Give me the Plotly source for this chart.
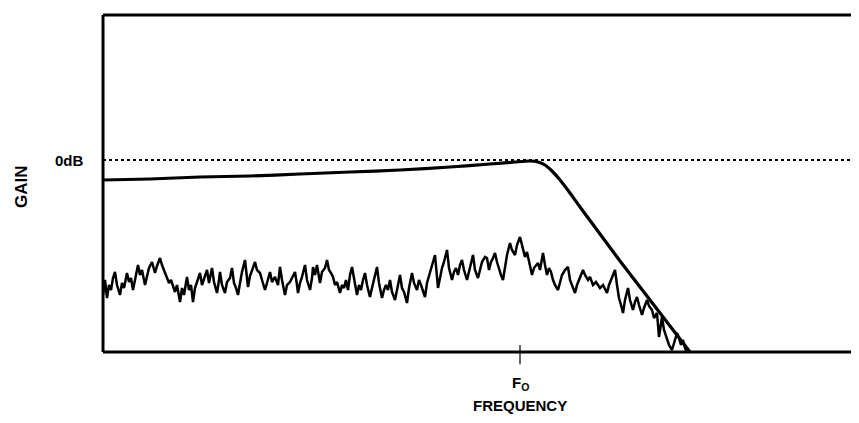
import plotly.graph_objects as go

# Frequency response (arbitrary units: freq 0 = left edge, gain 0 = 0 dB line)
resp_freq = [0, 47, 97, 147, 197, 247, 297, 347, 387, 412, 427, 435, 442, 449,
             457, 467, 477, 497, 517, 537, 557, 577, 587]
resp_gain = [-20, -19, -17, -16, -14, -12, -10, -7, -4, -2, -1, -2, -5, -11,
             -20, -33, -47, -74, -101, -127, -153, -179, -192]

noise_freq = [
    0, 2, 4, 6, 8, 10, 12, 14, 17, 19,
    21, 24, 26, 28, 30, 32, 35, 37, 39, 42,
    44, 46, 49, 52, 54, 57, 59, 61, 64, 66,
    68, 70, 72, 74, 77, 79, 81, 84, 86, 88,
    90, 92, 94, 97, 99, 101, 104, 106, 109, 111,
    114, 116, 117, 119, 122, 124, 127, 129, 131, 133,
    135, 137, 139, 142, 144, 145, 147, 149, 152, 154,
    157, 159, 162, 164, 167, 169, 172, 175, 177, 179,
    182, 184, 187, 189, 192, 194, 195, 197, 199, 202,
    204, 207, 209, 210, 212, 214, 216, 217, 219, 222,
    224, 226, 228, 230, 232, 234, 237, 239, 241, 243,
    245, 247, 249, 251, 254, 256, 258, 260, 262, 264,
    267, 269, 271, 274, 276, 279, 281, 283, 285, 287,
    289, 292, 294, 297, 299, 301, 304, 306, 309, 311,
    314, 316, 318, 320, 322, 324, 326, 328, 330, 332,
    334, 335, 337, 339, 341, 344, 346, 349, 351, 353,
    355, 357, 359, 361, 364, 366, 368, 370, 372, 375,
    377, 379, 382, 384, 386, 388, 390, 392, 394, 396,
    398, 400, 402, 404, 407, 409, 412, 414, 417, 419,
    422, 424, 426, 429, 431, 433, 435, 437, 440, 442,
    444, 446, 448, 450, 452, 455, 457, 459, 462, 465,
    467, 469, 472, 474, 477, 480, 482, 485, 487, 490,
    493, 497, 500, 502, 504, 506, 509, 512, 514, 516,
    518, 520, 522, 525, 527, 530, 532, 534, 536, 539,
    541, 544, 546, 549, 551, 554, 556, 558, 559, 561,
    564, 566, 569, 571, 574, 576, 578, 580, 582, 584,
]
noise_gain = [
    -135, -120, -138, -125, -130, -118, -112, -125, -135, -123,
    -128, -113, -122, -118, -130, -120, -105, -115, -110, -125,
    -117, -108, -102, -113, -106, -98, -105, -110, -117, -123,
    -120, -127, -132, -125, -142, -128, -135, -117, -130, -125,
    -142, -128, -122, -113, -125, -118, -110, -123, -108, -122,
    -133, -120, -112, -125, -133, -122, -118, -108, -123, -128,
    -135, -123, -112, -100, -115, -127, -116, -110, -102, -110,
    -113, -120, -130, -123, -112, -122, -117, -125, -107, -120,
    -135, -125, -122, -118, -112, -125, -133, -123, -117, -105,
    -120, -130, -118, -107, -115, -105, -118, -123, -112, -108,
    -100, -110, -113, -117, -125, -122, -133, -125, -128, -120,
    -130, -115, -107, -120, -135, -125, -130, -120, -113, -125,
    -137, -128, -120, -107, -123, -138, -130, -125, -130, -120,
    -132, -140, -130, -115, -128, -132, -143, -128, -113, -123,
    -130, -120, -125, -132, -137, -123, -115, -110, -102, -95,
    -115, -128, -118, -108, -102, -90, -108, -120, -112, -108,
    -115, -105, -100, -110, -120, -112, -102, -95, -110, -118,
    -110, -102, -97, -98, -110, -102, -98, -93, -102, -110,
    -115, -120, -105, -95, -83, -90, -95, -85, -77, -85,
    -97, -92, -102, -115, -108, -105, -103, -110, -93, -105,
    -115, -108, -112, -120, -125, -130, -122, -115, -110, -107,
    -120, -125, -133, -125, -118, -110, -115, -120, -117, -125,
    -122, -128, -125, -130, -133, -125, -118, -110, -125, -138,
    -145, -153, -140, -128, -140, -150, -142, -137, -145, -155,
    -148, -140, -146, -150, -158, -153, -177, -165, -157, -170,
    -180, -185, -190, -182, -173, -178, -185, -180, -188, -192,
]
assert len(noise_freq) == len(noise_gain)

F0 = 417
X_RANGE = [0, 756]
Y_RANGE = [-192, 145]
F0_PAPER = F0 / (X_RANGE[1] - X_RANGE[0])

FONT = "Liberation Sans, Arial, sans-serif"

fig = go.Figure()
fig.add_trace(go.Scatter(x=noise_freq, y=noise_gain, mode="lines",
                         line=dict(color="black", width=2.5), hoverinfo="skip"))
fig.add_trace(go.Scatter(x=resp_freq, y=resp_gain, mode="lines",
                         line=dict(color="black", width=3.2, shape="spline", smoothing=0.6),
                         hoverinfo="skip"))

shapes = [
    # 0 dB reference (dotted)
    dict(type="line", xref="paper", yref="y", x0=0, x1=1, y0=0, y1=0,
         line=dict(color="black", width=2, dash="dot")),
    # frame: left, top, bottom
    dict(type="line", xref="paper", yref="paper", x0=0, x1=0, y0=0, y1=1,
         line=dict(color="black", width=3)),
    dict(type="line", xref="paper", yref="paper", x0=0, x1=1, y0=1, y1=1,
         line=dict(color="black", width=3)),
    dict(type="line", xref="paper", yref="paper", x0=0, x1=1, y0=0, y1=0,
         line=dict(color="black", width=3)),
    # F0 tick
    dict(type="line", xref="paper", yref="paper", x0=F0_PAPER, x1=F0_PAPER,
         y0=0.021, y1=-0.036, line=dict(color="black", width=1.2)),
]

annotations = [
    dict(text="0dB", xref="paper", yref="y", x=-0.023, y=0, xanchor="right",
         yanchor="middle", showarrow=False,
         font=dict(family=FONT, size=15, color="black", weight="bold")),
    dict(text="GAIN", xref="paper", yref="paper", x=-0.107, y=0.49, textangle=-90,
         xanchor="center", yanchor="middle", showarrow=False,
         font=dict(family=FONT, size=17, color="black", weight="bold")),
    dict(text="F<sub>O</sub>", xref="paper", yref="paper",
         x=F0_PAPER, y=-0.092, xanchor="center", yanchor="middle",
         showarrow=False, font=dict(family=FONT, size=15, color="black", weight="bold")),
    dict(text="FREQUENCY", xref="paper", yref="paper",
         x=F0_PAPER, y=-0.158, xanchor="center", yanchor="middle",
         showarrow=False, font=dict(family=FONT, size=15, color="black", weight="bold")),
]

fig.update_layout(
    width=851, height=415,
    margin=dict(l=95, r=0, t=7, b=71),
    paper_bgcolor="white", plot_bgcolor="white",
    showlegend=False,
    shapes=shapes, annotations=annotations,
    xaxis=dict(range=X_RANGE, showgrid=False, zeroline=False, showticklabels=False,
               showline=False, ticks=""),
    yaxis=dict(range=Y_RANGE, showgrid=False, zeroline=False, showticklabels=False,
               showline=False, ticks=""),
)

fig.write_html("out.html")
